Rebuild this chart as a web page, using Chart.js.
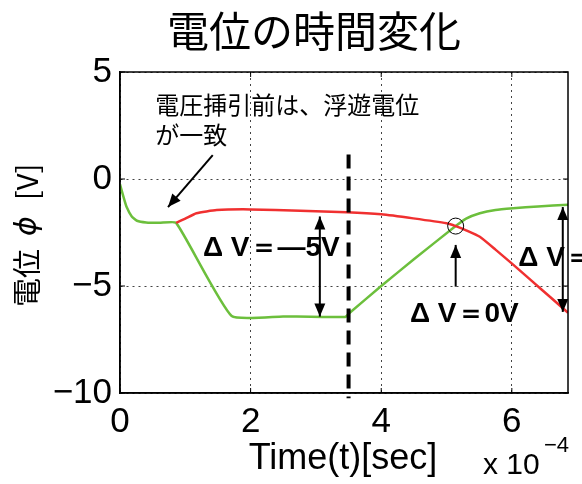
<!DOCTYPE html>
<html>
<head>
<meta charset="utf-8">
<script src="https://cdn.jsdelivr.net/npm/chart.js@4/dist/chart.umd.min.js"></script>
<style>
  html,body{margin:0;padding:0;background:#fff;}
  #wrap{width:582px;height:484px;}
</style>
</head>
<body>
<div id="wrap"><canvas id="c" width="582" height="484"></canvas></div>
<script>
// ---- data (time in units of 1e-4 sec) ----
const xTicks = [0, 2, 4, 6];
const yTicks = [-10, -5, 0, 5];

const greenT = [0, 0.05, 0.1, 0.18, 0.26, 0.4, 0.6, 0.86, 1.71, 2.5, 3.45, 3.5, 4.0, 4.5, 5.14, 5.3, 5.51, 5.75, 6.02, 6.4, 6.86];
const greenV = [-0.25, -0.8, -1.3, -1.75, -1.95, -2.03, -2.05, -2.05, -6.4, -6.42, -6.45, -6.3, -5.0, -3.75, -2.2, -1.85, -1.6, -1.45, -1.37, -1.28, -1.2];

const redT = [0.86, 1.0, 1.17, 1.48, 2.0, 2.76, 3.47, 4.0, 4.49, 5.0, 5.14, 5.3, 5.51, 5.75, 6.02, 6.3, 6.6, 6.86];
const redV = [-2.05, -1.85, -1.6, -1.45, -1.42, -1.48, -1.55, -1.65, -1.84, -2.07, -2.2, -2.4, -2.7, -3.3, -4.0, -4.75, -5.55, -6.25];

const sweepT = [3.5, 3.5];
const sweepV = [1.15, -10.25];

const pts = (xs, ys) => xs.map((x, i) => ({x: x, y: ys[i]}));

const JP = "'Noto Sans CJK JP', sans-serif";
const SANS = "'Liberation Sans', Arial, sans-serif";

function arrowHead(ctx, x1, y1, x2, y2, len, wid){
  const a = Math.atan2(y2 - y1, x2 - x1);
  ctx.beginPath();
  ctx.moveTo(x2, y2);
  ctx.lineTo(x2 - len*Math.cos(a) + wid/2*Math.sin(a), y2 - len*Math.sin(a) - wid/2*Math.cos(a));
  ctx.lineTo(x2 - len*Math.cos(a) - wid/2*Math.sin(a), y2 - len*Math.sin(a) + wid/2*Math.cos(a));
  ctx.closePath();
  ctx.fill();
}
function arrow(ctx, x1, y1, x2, y2, both){
  ctx.beginPath(); ctx.moveTo(x1, y1); ctx.lineTo(x2, y2); ctx.stroke();
  arrowHead(ctx, x1, y1, x2, y2, 13, 11);
  if (both) arrowHead(ctx, x2, y2, x1, y1, 13, 11);
}

// ---- extras: box, inner ticks, annotations, titles ----
const extras = {
  id: "extras",
  afterDatasetsDraw(chart){
    const ctx = chart.ctx, xs = chart.scales.x, ys = chart.scales.y, a = chart.chartArea;
    const X = v => xs.getPixelForValue(v), Y = v => ys.getPixelForValue(v);
    ctx.save();
    ctx.setLineDash([]);
    // box
    ctx.strokeStyle = "#000"; ctx.lineWidth = 1.5;
    ctx.strokeRect(a.left, a.top, a.right - a.left, a.bottom - a.top);
    // inner ticks
    ctx.lineWidth = 1;
    xTicks.forEach(v => {
      ctx.beginPath();
      ctx.moveTo(X(v), a.bottom); ctx.lineTo(X(v), a.bottom - 5);
      ctx.moveTo(X(v), a.top); ctx.lineTo(X(v), a.top + 5);
      ctx.stroke();
    });
    yTicks.forEach(v => {
      ctx.beginPath();
      ctx.moveTo(a.left, Y(v)); ctx.lineTo(a.left + 5, Y(v));
      ctx.moveTo(a.right, Y(v)); ctx.lineTo(a.right - 5, Y(v));
      ctx.stroke();
    });

    // annotations
    ctx.fillStyle = "#000"; ctx.strokeStyle = "#000"; ctx.lineWidth = 2;
    arrow(ctx, X(1.42), Y(1.12), X(0.735), Y(-1.31), false);
    arrow(ctx, X(3.06), Y(-1.75), X(3.06), Y(-6.43), true);
    arrow(ctx, X(5.14), Y(-5.03), X(5.14), Y(-3.08), false);
    arrow(ctx, X(6.78), Y(-1.31), X(6.78), Y(-6.21), true);
    ctx.lineWidth = 1;
    ctx.beginPath(); ctx.arc(X(5.14), Y(-2.2), 8, 0, Math.PI*2); ctx.stroke();

    ctx.textBaseline = "middle"; ctx.textAlign = "left";
    ctx.font = "24px " + JP;
    ctx.fillText("電圧挿引前は、浮遊電位", X(0.54), Y(3.46));
    ctx.fillText("が一致", X(0.54), Y(2.04));

    ctx.font = "bold 28px " + SANS;
    ctx.fillText("Δ V＝—5V", X(1.27), Y(-3.24));
    ctx.fillText("Δ V＝0V", X(4.44), Y(-6.3));
    ctx.fillText("Δ V＝", X(6.1), Y(-3.72));
    ctx.restore();
  },
  afterDraw(chart){
    const ctx = chart.ctx;
    ctx.save();
    ctx.fillStyle = "#000";
    ctx.textAlign = "center"; ctx.textBaseline = "middle";
    ctx.font = "42px " + JP;
    ctx.fillText("電位の時間変化", 314, 31);
    ctx.font = "36px " + SANS;
    ctx.fillText("Time(t)[sec]", 343, 459);
    ctx.textAlign = "left";
    ctx.font = "30px " + SANS;
    ctx.fillText("x 10", 483, 466);
    ctx.font = "22px " + SANS;
    ctx.fillText("−4", 544, 446);
    // y-axis title, read bottom to top
    ctx.translate(27, 236);
    ctx.rotate(-Math.PI/2);
    ctx.font = "29px " + JP;
    ctx.fillText("電位", -71, 0);
    ctx.font = "oblique 30px 'DejaVu Sans', sans-serif";
    ctx.fillText("ϕ", 0, 1);
    ctx.font = "29px " + JP;
    ctx.fillText("[V]", 36, 0);
    ctx.restore();
  }
};

new Chart(document.getElementById("c"), {
  type: "line",
  data: {
    datasets: [
      { data: pts(sweepT, sweepV), borderColor: "#000", borderWidth: 4, borderDash: [14, 8], pointRadius: 0, clip: false },
      { data: pts(redT, redV), borderColor: "#f03030", borderWidth: 2.5, pointRadius: 0, tension: 0.15 },
      { data: pts(greenT, greenV), borderColor: "#6cbf3c", borderWidth: 2.5, pointRadius: 0, tension: 0.15 }
    ]
  },
  options: {
    responsive: false,
    animation: false,
    layout: { padding: { top: 72, right: 14, left: 0, bottom: 0 } },
    plugins: { legend: { display: false }, tooltip: { enabled: false }, title: { display: false } },
    scales: {
      x: {
        type: "linear", min: 0, max: 6.86,
        afterBuildTicks: s => { s.ticks = xTicks.map(v => ({value: v})); },
        afterFit: s => { s.height = 91; },
        grid: { color: "#444", lineWidth: 1, drawTicks: false },
        border: { display: true, color: "#000", width: 1.5, dash: [2, 4] },
        ticks: { color: "#000", padding: 8, font: { size: 35, family: SANS }, maxRotation: 0 }
      },
      y: {
        type: "linear", min: -10, max: 5,
        afterBuildTicks: s => { s.ticks = yTicks.map(v => ({value: v})); },
        afterFit: s => { s.width = 120; },
        grid: { color: "#444", lineWidth: 1, drawTicks: false },
        border: { display: true, color: "#000", width: 1.5, dash: [2, 4] },
        ticks: { color: "#000", padding: 8, font: { size: 35, family: SANS },
                 callback: v => v < 0 ? "−" + Math.abs(v) : "" + v }
      }
    }
  },
  plugins: [extras]
});
</script>
</body>
</html>
